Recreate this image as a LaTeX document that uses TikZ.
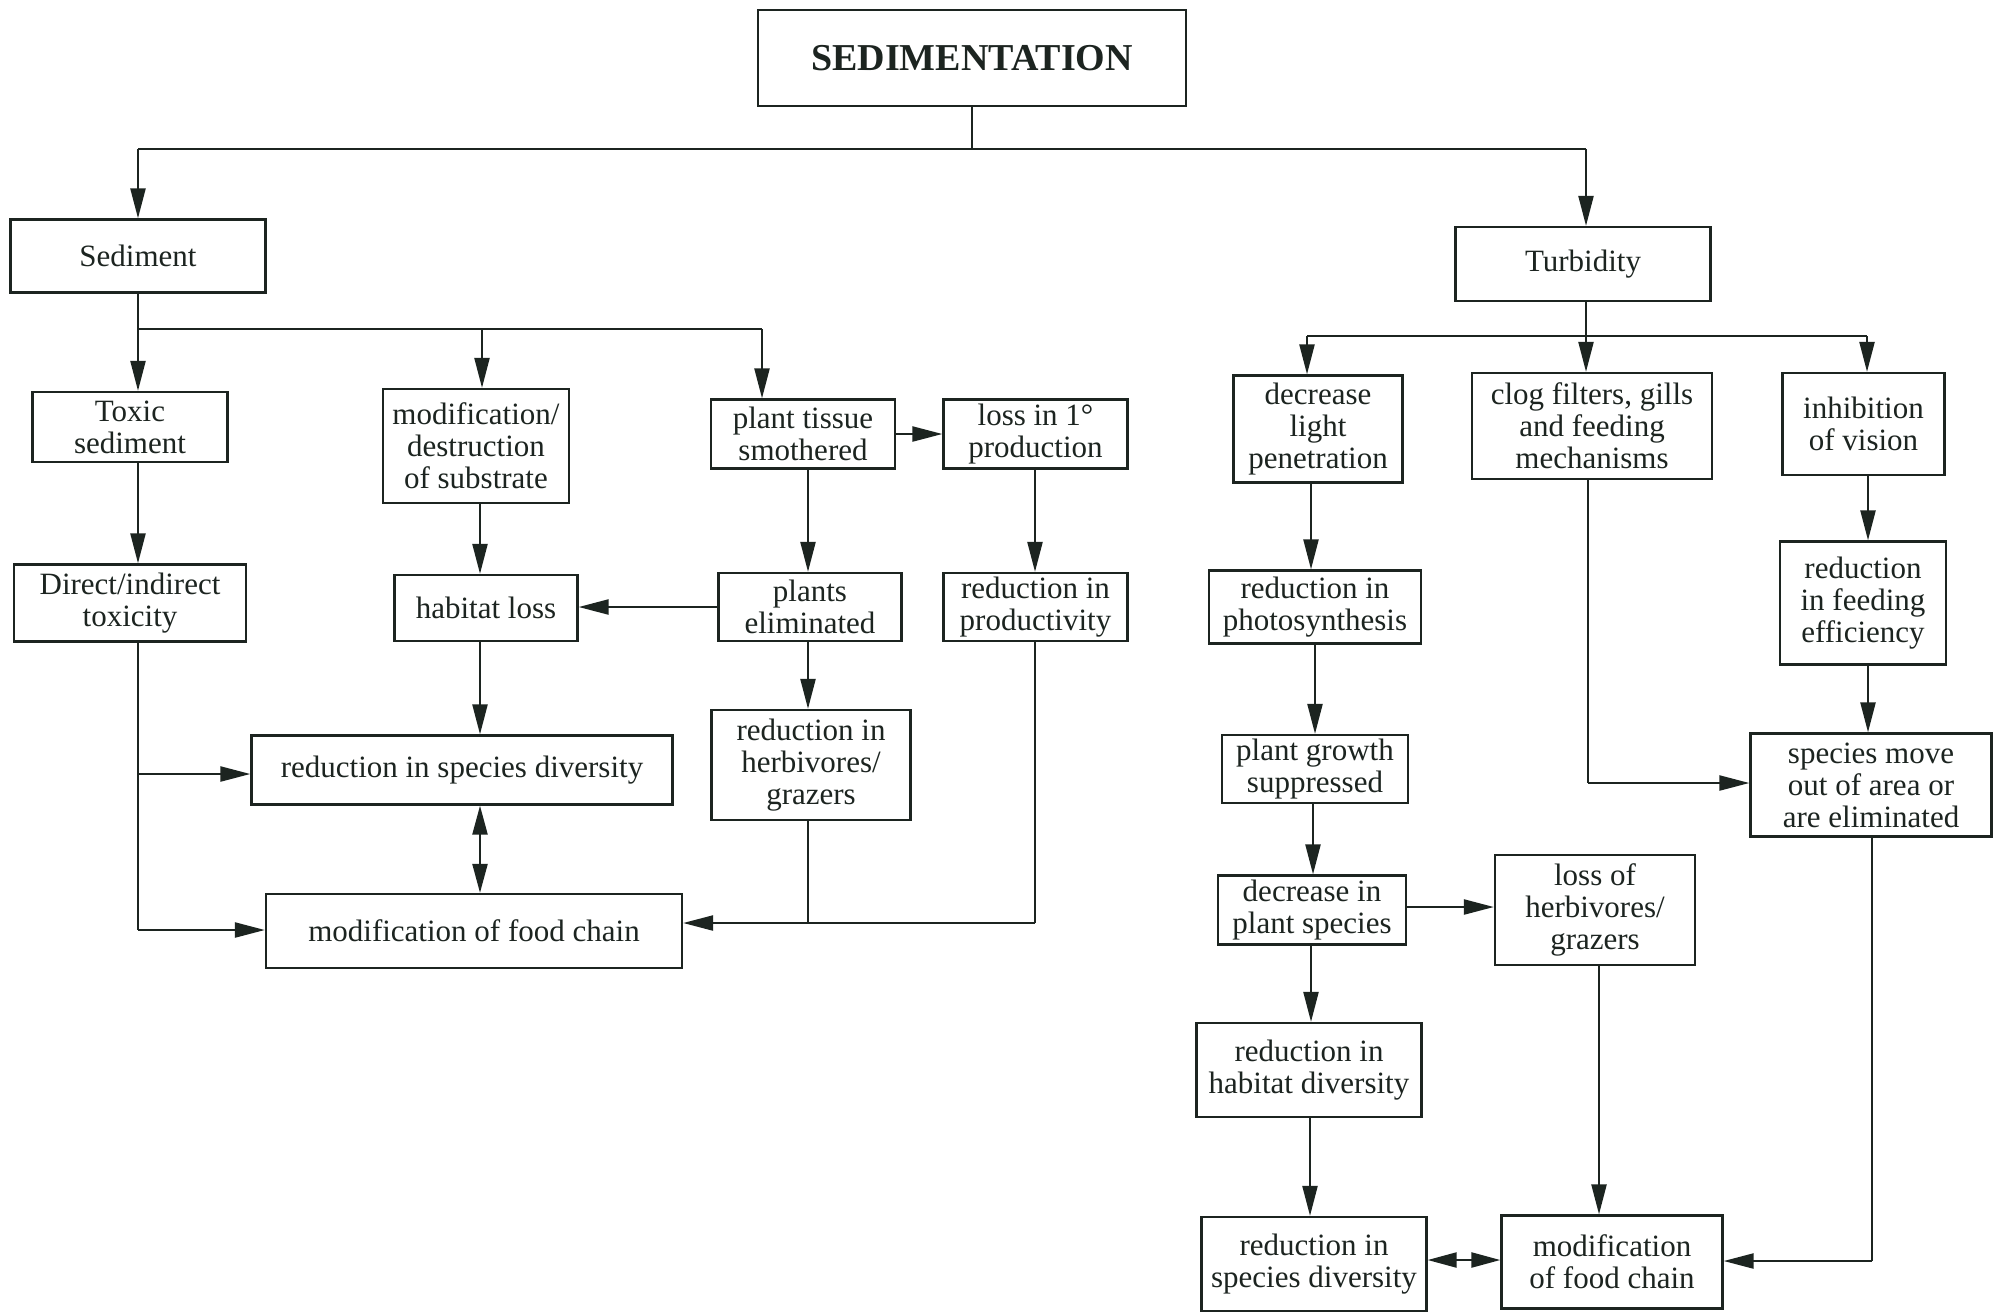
\documentclass[tikz,border=0pt]{standalone}
\usepackage{fontspec}
\setmainfont{Liberation Serif}
\usetikzlibrary{arrows.meta}
\definecolor{ink}{HTML}{1C2420}
\begin{document}
\begin{tikzpicture}[x=1pt,y=-1pt,
  box/.style={draw=ink, line width=2.3pt, align=center, inner sep=0pt, text=ink, font=\fontsize{31}{32}\selectfont},
  ln/.style={draw=ink, line width=2.3pt},
  arr/.style={ln, -{Triangle[length=30pt,width=15pt]}},
  darr/.style={ln, {Triangle[length=29pt,width=15pt]}-{Triangle[length=29pt,width=15pt]}}]
\useasboundingbox (0,0) rectangle (2002,1315);
\fill[white] (0,0) rectangle (2002,1315);
% nodes
\node[box, minimum width=428, minimum height=96, font=\fontsize{38}{40}\selectfont\bfseries] (title) at (972,58) {SEDIMENTATION};
\node[box, minimum width=255, minimum height=73] (sed) at (138,256) {Sediment};
\node[box, minimum width=255, minimum height=74] (turb) at (1583,264) {Turbidity};
\node[box, minimum width=195, minimum height=70] (toxic) at (130,427) {Toxic\\sediment};
\node[box, minimum width=186, minimum height=114] (modsub) at (476,446) {modification/\\destruction\\of substrate};
\node[box, minimum width=184, minimum height=69] (ptiss) at (803,434) {plant tissue\\smothered};
\node[box, minimum width=184, minimum height=69] (loss1) at (1035.5,434) {loss in 1°\\production};
\node[box, minimum width=232, minimum height=77] (direct) at (130,603) {Direct/indirect\\toxicity};
\node[box, minimum width=183, minimum height=66] (habloss) at (486,608) {habitat loss};
\node[box, minimum width=183, minimum height=68] (plelim) at (810,607) {plants\\eliminated};
\node[box, minimum width=184, minimum height=68] (redprod) at (1035.5,607) {reduction in\\productivity};
\node[box, minimum width=421, minimum height=69] (rsd) at (462,770) {reduction in species diversity};
\node[box, minimum width=199, minimum height=110] (redherb) at (811,765) {reduction in\\herbivores/\\grazers};
\node[box, minimum width=416, minimum height=74] (mfc) at (474,931) {modification of food chain};
\node[box, minimum width=169, minimum height=107] (dlp) at (1318,429) {decrease\\light\\penetration};
\node[box, minimum width=240, minimum height=106] (clog) at (1592,426) {clog filters, gills\\and feeding\\mechanisms};
\node[box, minimum width=162, minimum height=102] (inhib) at (1863.5,424) {inhibition\\of vision};
\node[box, minimum width=212, minimum height=73] (rphoto) at (1315,607) {reduction in\\photosynthesis};
\node[box, minimum width=166, minimum height=123] (rfeed) at (1863,603) {reduction\\in feeding\\efficiency};
\node[box, minimum width=186, minimum height=68] (pgs) at (1315,769) {plant growth\\suppressed};
\node[box, minimum width=241, minimum height=103] (smove) at (1871,785) {species move\\out of area or\\are eliminated};
\node[box, minimum width=188, minimum height=69] (dps) at (1312,910) {decrease in\\plant species};
\node[box, minimum width=200, minimum height=110] (lherb) at (1595,910) {loss of\\herbivores/\\grazers};
\node[box, minimum width=225, minimum height=94] (rhd) at (1309,1070) {reduction in\\habitat diversity};
\node[box, minimum width=225, minimum height=94] (rsdb) at (1314,1264) {reduction in\\species diversity};
\node[box, minimum width=221, minimum height=93] (mfcb) at (1612,1262) {modification\\of food chain};
% top bus
\coordinate (tbl) at (138,149);
\coordinate (tbr) at (1586,149);
\draw[ln] (title.south) -- (title.south |- tbl);
\draw[ln] (tbl) -- (tbr);
\draw[arr] (tbl) -- (tbl |- sed.north);
\draw[arr] (tbr) -- (tbr |- turb.north);
% sediment branch
\coordinate (sb0) at (138,329);
\coordinate (sb1) at (482,329);
\coordinate (sb2) at (762,329);
\draw[ln] (sed.south) -- (sb0) -- (sb2);
\draw[arr] (sb0) -- (sb0 |- toxic.north);
\draw[arr] (sb1) -- (sb1 |- modsub.north);
\draw[arr] (sb2) -- (sb2 |- ptiss.north);
\draw[arr] (sb0 |- toxic.south) -- (sb0 |- direct.north);
\coordinate (dl) at (138,930);
\coordinate (dm) at (138,774);
\draw[ln] (sb0 |- direct.south) -- (dl);
\draw[arr] (dl) -- (dl -| mfc.west);
\draw[arr] (dm) -- (dm -| rsd.west);
\coordinate (mx) at (480,0);
\draw[arr] (mx |- modsub.south) -- (mx |- habloss.north);
\draw[arr] (mx |- habloss.south) -- (mx |- rsd.north);
\draw[darr] (mx |- rsd.south) -- (mx |- mfc.north);
\draw[arr] (ptiss.east) -- (ptiss.east -| loss1.west);
\coordinate (px) at (808,0);
\draw[arr] (px |- ptiss.south) -- (px |- plelim.north);
\draw[arr] (plelim.west) -- (plelim.west -| habloss.east);
\draw[arr] (px |- plelim.south) -- (px |- redherb.north);
\coordinate (qx) at (1035,0);
\draw[arr] (qx |- loss1.south) -- (qx |- redprod.north);
\coordinate (fl) at (1035,923);
\draw[ln] (qx |- redprod.south) -- (fl);
\draw[arr] (fl) -- (fl -| mfc.east);
\draw[ln] (px |- redherb.south) -- (px |- fl);
% turbidity branch
\coordinate (tu0) at (1307,336);
\coordinate (tu1) at (1586,336);
\coordinate (tu2) at (1867,336);
\draw[ln] (tu1 |- turb.south) -- (tu1);
\draw[ln] (tu0) -- (tu2);
\draw[arr] (tu0) -- (tu0 |- dlp.north);
\draw[arr] (tu1) -- (tu1 |- clog.north);
\draw[arr] (tu2) -- (tu2 |- inhib.north);
\coordinate (ra) at (1311,0);
\coordinate (rb) at (1315,0);
\coordinate (rc) at (1313,0);
\coordinate (rd) at (1310,0);
\draw[arr] (ra |- dlp.south) -- (ra |- rphoto.north);
\draw[arr] (rb |- rphoto.south) -- (rb |- pgs.north);
\draw[arr] (rc |- pgs.south) -- (rc |- dps.north);
\draw[arr] (ra |- dps.south) -- (ra |- rhd.north);
\draw[arr] (rd |- rhd.south) -- (rd |- rsdb.north);
\coordinate (dy) at (0,907);
\draw[arr] (dps.east |- dy) -- (lherb.west |- dy);
\coordinate (ey) at (0,1260);
\draw[darr] (rsdb.east |- ey) -- (mfcb.west |- ey);
\coordinate (lx) at (1599,0);
\draw[arr] (lx |- lherb.south) -- (lx |- mfcb.north);
\coordinate (cl) at (1588,783);
\draw[ln] (cl |- clog.south) -- (cl);
\draw[arr] (cl) -- (cl -| smove.west);
\coordinate (vx) at (1868,0);
\draw[arr] (vx |- inhib.south) -- (vx |- rfeed.north);
\draw[arr] (vx |- rfeed.south) -- (vx |- smove.north);
\coordinate (sm) at (1872,1261);
\draw[ln] (sm |- smove.south) -- (sm);
\draw[arr] (sm) -- (sm -| mfcb.east);
\end{tikzpicture}
\end{document}
